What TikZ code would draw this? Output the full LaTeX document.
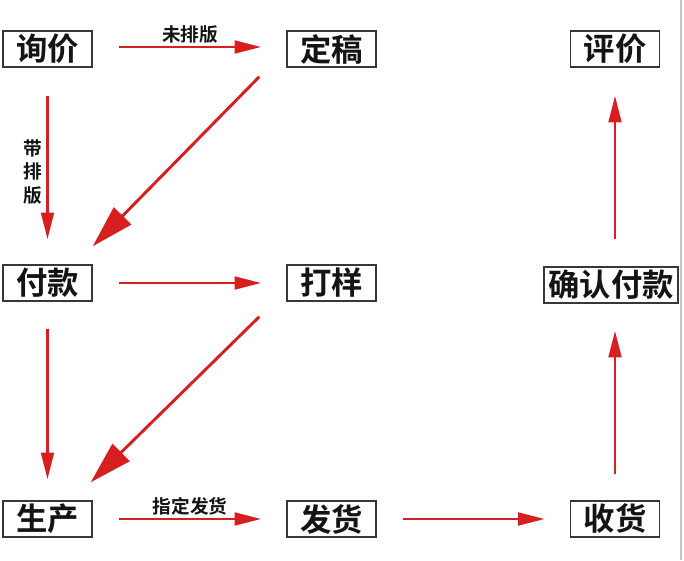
\documentclass[tikz,border=0pt]{standalone}
\usepackage{fontspec}
\setmainfont{Liberation Sans}
\newfontfamily\cjk{Noto Sans CJK SC}[BoldFont={Noto Sans CJK SC Bold}]
\usetikzlibrary{arrows.meta}
\definecolor{arrred}{RGB}{214,32,32}
\definecolor{txt}{RGB}{20,20,20}
\tikzset{
  box/.style={draw=txt!85, line width=1.1pt, fill=white, minimum width=89*0.75pt, minimum height=36*0.75pt, inner sep=0pt, font=\cjk\bfseries\fontsize{23.5}{25}\selectfont, text=txt},
  lbl/.style={font=\cjk\bfseries\fontsize{14}{16}\selectfont, text=txt, inner sep=0pt},
  arr/.style={draw=arrred, line width=2.2pt, -{Triangle[length=20pt,width=9.5pt]}, arrred},
  darr/.style={draw=arrred, line width=2.2pt, -{Triangle[length=32pt,width=18pt]}, arrred}
}
\begin{document}
\begin{tikzpicture}[x=0.75pt,y=-0.75pt]
\fill[white] (0,0) rectangle (684,560);
\useasboundingbox (0,0) rectangle (684,560);
\draw[gray!45, line width=1.5pt] (681,0) -- (681,560);
% nodes
\node[box] (xj) at (47.5,49) {询价};
\node[box] (dg) at (331.5,49) {定稿};
\node[box] (pj) at (615,49) {评价};
\node[box] (fk) at (47.5,283) {付款};
\node[box] (dy) at (331.5,283) {打样};
\node[box, minimum width=134*0.75pt] (qr) at (611,285) {确认付款};
\node[box] (sc) at (47.5,519) {生产};
\node[box] (fh) at (331.5,519) {发货};
\node[box] (sh) at (615,519) {收货};
% arrows
\draw[arr, shorten <=26*0.75pt, shorten >=25*0.75pt] ([yshift=1.5pt]xj.east) -- ([yshift=1.5pt]dg.west);
\draw[arr, shorten <=28*0.75pt, shorten >=25*0.75pt] (xj.south) -- (fk.north);
\draw[darr] ([shift={(-27,9)}]dg.south west) -- ([shift={(0,-18)}]fk.north east);
\draw[arr, shorten <=26*0.75pt, shorten >=25*0.75pt] (fk.east) -- (dy.west);
\draw[darr] ([shift={(-27,15)}]dy.south west) -- ([shift={(-2,-18)}]sc.north east);
\draw[arr, shorten <=27*0.75pt, shorten >=21*0.75pt] (fk.south) -- (sc.north);
\draw[arr, shorten <=26*0.75pt, shorten >=25*0.75pt] (sc.east) -- (fh.west);
\draw[arr, shorten <=26*0.75pt, shorten >=25*0.75pt] (fh.east) -- (sh.west);
\draw[arr, shorten <=26*0.75pt, shorten >=27*0.75pt] (sh.north) -- (sh.north |- qr.south);
\draw[arr, shorten <=27*0.75pt, shorten >=28*0.75pt] (sh.north |- qr.north) -- (pj.south);
% labels
\node[lbl] (l1) at (190,35) {未排版};
\node[lbl] (l2) at (190,506) {指定发货};
\node[lbl, align=center, font=\cjk\bfseries\fontsize{14}{17.5}\selectfont] (l3) at (33,172) {带\\排\\版};
\end{tikzpicture}
\end{document}
